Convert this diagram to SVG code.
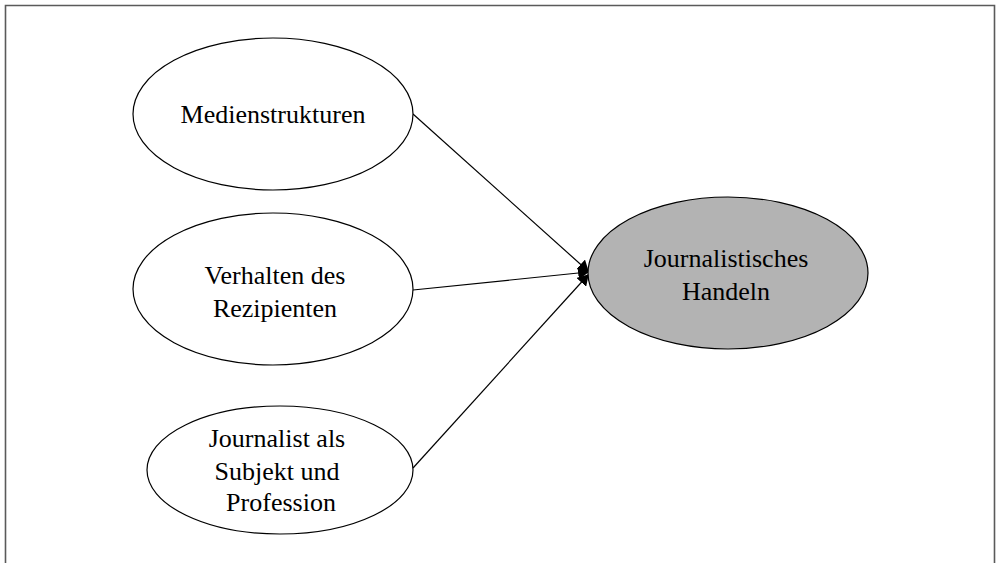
<svg xmlns="http://www.w3.org/2000/svg" width="996" height="563" viewBox="0 0 996 563">
<defs>
<style>
.node ellipse{stroke:#000;stroke-width:1.2}
.plain{fill:#fff}
.main{fill:#b3b3b3}
text{font-family:"Liberation Serif","Times New Roman",serif;font-size:26px;fill:#000;text-anchor:middle}
.conn line{stroke:#000;stroke-width:1.2;marker-end:url(#arr)}
</style>
<marker id="arr" viewBox="0 0 10 10" refX="9" refY="5" markerWidth="11" markerHeight="13" markerUnits="userSpaceOnUse" orient="auto" preserveAspectRatio="none">
<path d="M0,0 L10,5 L0,10 z" fill="#000"/>
</marker>
</defs>
<rect width="996" height="563" fill="#fff"/>
<path d="M5.5,563 V5.5 H994.5 V563" fill="none" stroke="#5a5a5a" stroke-width="1.6"/>
<g class="conn">
<line x1="413" y1="114" x2="588" y2="271"/>
<line x1="413" y1="290" x2="588" y2="272"/>
<line x1="413" y1="468" x2="588" y2="275"/>
</g>
<g id="medienstrukturen" class="node">
<ellipse class="plain" cx="273" cy="114" rx="140" ry="76"/>
<text x="273" y="123">Medienstrukturen</text>
</g>
<g id="verhalten" class="node">
<ellipse class="plain" cx="273" cy="289" rx="140" ry="76"/>
<text x="275" y="284">Verhalten des</text>
<text x="275" y="317">Rezipienten</text>
</g>
<g id="journalist" class="node">
<ellipse class="plain" cx="280" cy="470" rx="133" ry="64"/>
<text x="277" y="447">Journalist als</text>
<text x="277" y="480">Subjekt und</text>
<text x="281" y="511">Profession</text>
</g>
<g id="handeln" class="node">
<ellipse class="main" cx="728" cy="273" rx="140" ry="76"/>
<text x="726" y="267">Journalistisches</text>
<text x="726" y="300">Handeln</text>
</g>
</svg>
